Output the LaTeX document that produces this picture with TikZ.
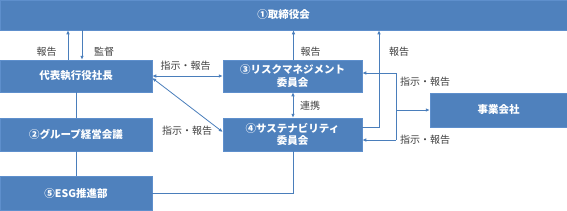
\documentclass[tikz,border=0pt]{standalone}
\usepackage{fontspec}
\setmainfont{Noto Sans CJK JP}
\usetikzlibrary{arrows.meta,calc}
\definecolor{boxblue}{HTML}{4F81BD}
\definecolor{boxedge}{HTML}{5E8FCC}
\definecolor{linkblue}{HTML}{4A7EBB}
\definecolor{lbl}{HTML}{404040}
\begin{document}
\begin{tikzpicture}[x=1pt,y=-1pt,
  orgbox/.style={draw=boxedge,line width=0.5pt,fill=boxblue,text=white,inner sep=0pt,
    font=\fontsize{10.5}{12.5}\selectfont\bfseries,align=center},
  link/.style={draw=linkblue,line width=0.8pt},
  arr/.style={link,-{Latex[length=4pt,width=3.6pt]}},
  darr/.style={link,{Latex[length=4pt,width=3.6pt]}-{Latex[length=4pt,width=3.6pt]}},
  lab/.style={text=lbl,font=\fontsize{10}{12}\selectfont,inner sep=0pt}]
\useasboundingbox (0,0) rectangle (567,210);
% boxes
\node[orgbox,minimum width=567pt,minimum height=30pt] (top) at (283.5,15) {①取締役会};
\node[orgbox,minimum width=152pt,minimum height=32pt] (ceo) at (76,76) {代表執行役社長};
\node[orgbox,minimum width=152pt,minimum height=33pt] (grp) at (76,134.5) {②グループ経営会議};
\node[orgbox,minimum width=152pt,minimum height=34pt] (esg) at (76,193) {⑤ESG推進部};
\node[orgbox,minimum width=139pt,minimum height=32pt] (risk) at (292.5,76) {③リスクマネジメント\\委員会};
\node[orgbox,minimum width=139pt,minimum height=33pt] (sus) at (292.5,134.5) {④サステナビリティ\\委員会};
\node[orgbox,minimum width=137pt,minimum height=34pt] (biz) at (498.5,110) {事業会社};
% junction coordinates
\coordinate (j1) at (396,73);
\coordinate (jm) at (396,110);
\coordinate (j2) at (396,140);
\coordinate (c1) at (379,127);
% connectors
\draw[arr] ([xshift=-8pt]ceo.north) -- ([xshift=-8pt]ceo.north |- top.south);
\draw[arr] ([xshift=6pt]ceo.north |- top.south) -- ([xshift=6pt]ceo.north);
\draw[arr] ([xshift=1pt]risk.north) -- ([xshift=1pt]risk.north |- top.south);
\draw[arr] ([yshift=7.5pt]sus.east) -- (c1) -- (c1 |- top.south);
\draw[link] (j1) -- (j2);
\draw[arr] (j1) -- (j1 -| risk.east);
\draw[arr] (j2) -- (j2 -| sus.east);
\draw[arr] (jm) -- (biz.west);
\draw[darr] (ceo.east) -- (risk.west);
\draw[darr] ([yshift=-2pt]ceo.east) -- ([yshift=2.5pt]sus.west);
\draw[darr] ([xshift=0.5pt]risk.south) -- ([xshift=0.5pt]sus.north);
\draw[link] (ceo.south) -- (grp.north);
\draw[link] (grp.south) -- (esg.north);
\draw[link] (esg.east) -| ([xshift=0.5pt]sus.south);
% labels
\node[lab] (l1) at (46.5,52) {報告};
\node[lab] (l2) at (104,52) {監督};
\node[lab] (l3) at (310.5,52) {報告};
\node[lab] (l4) at (399,52) {報告};
\node[lab] (l5) at (185.5,66) {指示・報告};
\node[lab] (l6) at (187,131) {指示・報告};
\node[lab] (l7) at (310,106) {連携};
\node[lab] (l8) at (425,82) {指示・報告};
\node[lab] (l9) at (425,140) {指示・報告};
\end{tikzpicture}
\end{document}
